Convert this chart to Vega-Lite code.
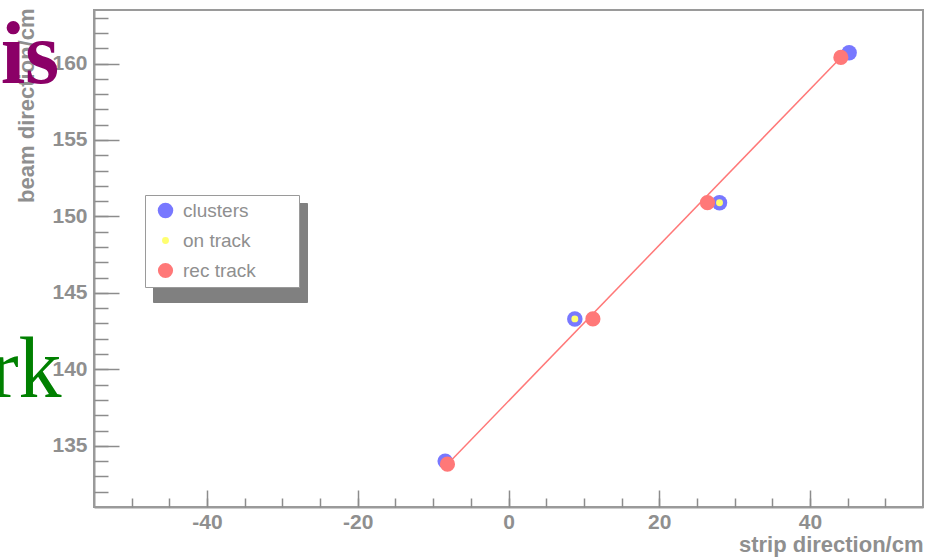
{
  "$schema": "https://vega.github.io/schema/vega-lite/v6.json",
  "width": 829,
  "height": 497,
  "autosize": {"type": "none"},
  "padding": {"left": 94, "top": 10, "right": 2, "bottom": 51},
  "background": "white",
  "config": {
    "view": {"stroke": "#9a9a9a", "strokeWidth": 2},
    "axis": {
      "grid": false,
      "domainColor": "#9a9a9a",
      "domainWidth": 2,
      "tickColor": "#8c8c8c",
      "tickWidth": 1.5,
      "labelFont": "Liberation Sans",
      "labelFontWeight": "bold",
      "labelFontSize": 21,
      "labelColor": "#8f8f8f",
      "labelFlush": false,
      "labelOverlap": false,
      "titleFont": "Liberation Sans",
      "titleFontWeight": "bold",
      "titleFontSize": 22,
      "titleColor": "#8f8f8f"
    }
  },
  "datasets": {
    "points": [
      {"series": "clusters", "shadow": "s1", "x": -8.4, "y": 134.0},
      {"series": "clusters", "shadow": "s1", "x": 8.8, "y": 143.3},
      {"series": "clusters", "shadow": "s1", "x": 28.0, "y": 150.9},
      {"series": "clusters", "shadow": "s1", "x": 45.2, "y": 160.7},
      {"series": "on track", "shadow": "s2", "x": 8.8, "y": 143.3},
      {"series": "on track", "shadow": "s2", "x": 28.0, "y": 150.9},
      {"series": "rec track", "shadow": "s3", "x": -8.1, "y": 133.8},
      {"series": "rec track", "shadow": "s3", "x": 11.2, "y": 143.3},
      {"series": "rec track", "shadow": "s3", "x": 26.4, "y": 150.9},
      {"series": "rec track", "shadow": "s3", "x": 44.1, "y": 160.4}
    ],
    "track": [
      {"x": -8.1, "y": 133.8},
      {"x": 44.1, "y": 160.4}
    ],
    "word1": [{"label": "is", "x": -59.6, "y": 158.7}],
    "word2": [{"label": "rk", "x": -59.3, "y": 138.2}]
  },
  "layer": [
    {
      "data": {"name": "track"},
      "mark": {"type": "line", "color": "#ff7878", "strokeWidth": 1.5},
      "encoding": {
        "x": {
          "field": "x", "type": "quantitative",
          "scale": {"domain": [-55, 55], "nice": false, "zero": false},
          "axis": {
            "orient": "bottom",
            "values": [-40, -20, 0, 20, 40],
            "tickSize": -17,
            "labelPadding": 21,
            "labelBaseline": "top",
            "labelExpr": "replace(datum.label, '\u2212', '-')",
            "title": "strip direction/cm",
            "titleAlign": "right",
            "titleAnchor": "end",
            "titleBaseline": "alphabetic",
            "titleX": 829,
            "titleY": 44
          }
        },
        "y": {
          "field": "y", "type": "quantitative",
          "scale": {"domain": [131, 163.5], "nice": false, "zero": false},
          "axis": {
            "orient": "left",
            "values": [135, 140, 145, 150, 155, 160],
            "tickSize": -25,
            "labelPadding": 32,
            "title": "beam direction/cm",
            "titleAngle": 270,
            "titleAlign": "right",
            "titleAnchor": "end",
            "titleBaseline": "alphabetic",
            "titleX": -61,
            "titleY": -2
          }
        }
      }
    },
    {
      "data": {"name": "points"},
      "mark": {"type": "point", "filled": true, "shape": "circle", "strokeWidth": 0, "opacity": 1},
      "encoding": {
        "x": {
          "field": "x", "type": "quantitative",
          "scale": {"domain": [-55, 55], "nice": false, "zero": false},
          "axis": {
            "orient": "bottom",
            "values": [-50, -45, -40, -35, -30, -25, -20, -15, -10, -5, 0, 5, 10, 15, 20, 25, 30, 35, 40, 45, 50],
            "tickSize": -9,
            "labels": false,
            "domain": false,
            "title": null
          }
        },
        "y": {
          "field": "y", "type": "quantitative",
          "scale": {"domain": [131, 163.5], "nice": false, "zero": false},
          "axis": {
            "orient": "left",
            "values": [132, 133, 134, 135, 136, 137, 138, 139, 140, 141, 142, 143, 144, 145, 146, 147, 148, 149, 150, 151, 152, 153, 154, 155, 156, 157, 158, 159, 160, 161, 162, 163],
            "tickSize": -14,
            "labels": false,
            "domain": false,
            "title": null
          }
        },
        "color": {
          "field": "series", "type": "nominal",
          "scale": {"domain": ["clusters", "on track", "rec track"], "range": ["#7878ff", "#ffff70", "#ff7878"]},
          "legend": {
            "title": null,
            "orient": "none",
            "legendX": 51,
            "legendY": 185,
            "zindex": 2,
            "fillColor": "white",
            "strokeColor": "#9a9a9a",
            "padding": 6,
            "symbolOffset": 5,
            "labelFont": "Liberation Sans",
            "labelFontSize": 19,
            "labelColor": "#8f8f8f",
            "labelOffset": 8,
            "rowPadding": 10,
            "labelExpr": "datum.label + '\u00a0\u00a0\u00a0\u00a0\u00a0\u00a0\u00a0\u200b'",
            "encode": {
              "legend": {"strokeWidth": {"value": 2}}
            }
          }
        },
        "size": {
          "field": "series", "type": "nominal",
          "scale": {"type": "ordinal", "domain": ["clusters", "on track", "rec track"], "range": [240, 48, 230]},
          "legend": null
        },
        "opacity": {
          "field": "shadow", "type": "nominal",
          "scale": {"type": "ordinal", "domain": ["s1", "s2", "s3"], "range": [1, 1, 1]},
          "legend": {
            "title": null,
            "orient": "none",
            "legendX": 59,
            "legendY": 193,
            "zindex": 1,
            "fillColor": "#808080",
            "strokeColor": "#808080",
            "padding": 6,
            "symbolOffset": 5,
            "symbolSize": 240,
            "symbolFillColor": "#808080",
            "symbolStrokeColor": "#808080",
            "labelFont": "Liberation Sans",
            "labelFontSize": 19,
            "labelColor": "transparent",
            "labelOffset": 8,
            "rowPadding": 10,
            "labelExpr": "(datum.value === 's1' ? 'clusters' : datum.value === 's2' ? 'on track' : 'rec track') + '\u00a0\u00a0\u00a0\u00a0\u00a0\u00a0\u00a0\u200b'",
            "encode": {
              "legend": {"strokeWidth": {"value": 2}}
            }
          }
        }
      }
    },
    {
      "data": {"name": "word1"},
      "mark": {"type": "text", "align": "right", "baseline": "alphabetic", "font": "Liberation Serif", "fontWeight": "bold", "fontSize": 88, "color": "#8b0067"},
      "encoding": {
        "x": {"field": "x", "type": "quantitative", "scale": {"domain": [-55, 55], "nice": false, "zero": false}, "axis": null},
        "y": {"field": "y", "type": "quantitative", "scale": {"domain": [131, 163.5], "nice": false, "zero": false}, "axis": null},
        "text": {"field": "label"}
      }
    },
    {
      "data": {"name": "word2"},
      "mark": {"type": "text", "align": "right", "baseline": "alphabetic", "font": "Liberation Serif", "fontWeight": "normal", "fontSize": 86, "color": "#008000"},
      "encoding": {
        "x": {"field": "x", "type": "quantitative", "scale": {"domain": [-55, 55], "nice": false, "zero": false}, "axis": null},
        "y": {"field": "y", "type": "quantitative", "scale": {"domain": [131, 163.5], "nice": false, "zero": false}, "axis": null},
        "text": {"field": "label"}
      }
    }
  ],
  "resolve": {"axis": {"x": "independent", "y": "independent"}}
}
